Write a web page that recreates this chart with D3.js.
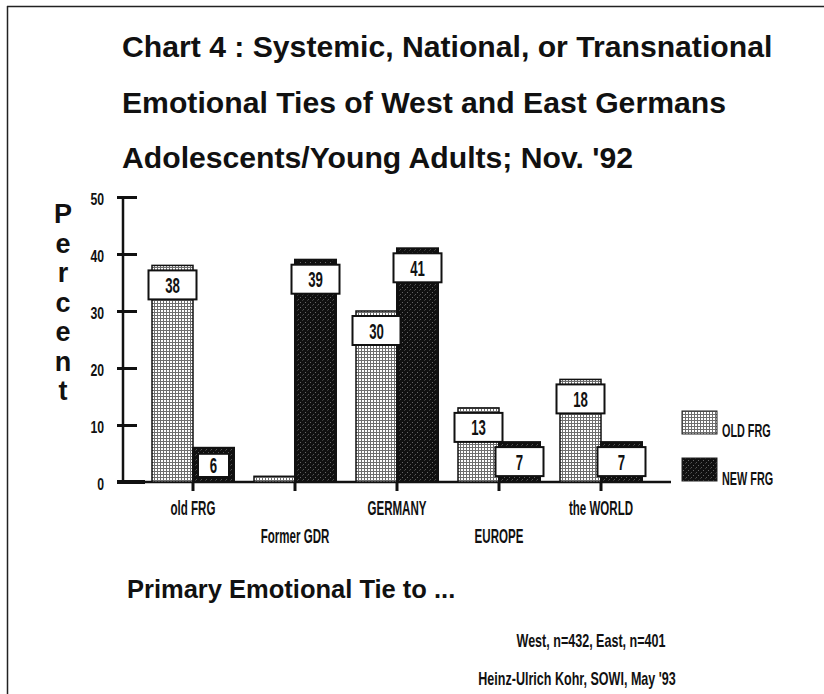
<!DOCTYPE html>
<html><head><meta charset="utf-8">
<script src="https://cdn.jsdelivr.net/npm/d3@7"></script>
<style>body{margin:0;background:#fff}</style>
</head><body><svg id="c" width="824" height="694"></svg>
<script>
const categories = ["old FRG","Former GDR","GERMANY","EUROPE","the WORLD"];
const seriesNames = ["OLD FRG","NEW FRG"];
const oldFRG = [38,1,30,13,18];
const newFRG = [6,39,41,7,7];
const yTicks = [0,10,20,30,40,50];
const titleLines = ["Chart 4 : Systemic, National, or Transnational","Emotional Ties of West and East Germans","Adolescents/Young Adults; Nov. '92"];
const yTitle = "Percent";
const xTitle = "Primary Emotional Tie to ...";
const notes = ["West, n=432, East, n=401","Heinz-Ulrich Kohr, SOWI, May '93"];

const svg = d3.select("#c");
const SANS = "'Liberation Sans', Arial, Helvetica, sans-serif";
function condense(sel, sx){
  sel.each(function(){
    const w = this.getComputedTextLength();
    d3.select(this).attr("textLength", w*sx).attr("lengthAdjust","spacingAndGlyphs");
  });
}

// patterns
const defs = svg.append("defs");
const pOld = defs.append("pattern").attr("id","pOld").attr("patternUnits","userSpaceOnUse").attr("width",3).attr("height",3);
pOld.append("rect").attr("width",3).attr("height",3).attr("fill","#6e6e6e");
pOld.append("rect").attr("x",1).attr("y",1).attr("width",2).attr("height",2).attr("fill","#fff");
const pNew = defs.append("pattern").attr("id","pNew").attr("patternUnits","userSpaceOnUse").attr("width",5).attr("height",5);
pNew.append("rect").attr("width",5).attr("height",5).attr("fill","#101010");
pNew.append("rect").attr("x",1).attr("y",2).attr("width",1).attr("height",1).attr("fill","#666");
pNew.append("rect").attr("x",3).attr("y",0).attr("width",1).attr("height",1).attr("fill","#3a3a3a");
pNew.append("rect").attr("x",4).attr("y",4).attr("width",1).attr("height",1).attr("fill","#555");

// frame
svg.append("line").attr("x1",7).attr("x2",824).attr("y1",6.5).attr("y2",6.5).attr("stroke","#222").attr("stroke-width",1.5);
svg.append("line").attr("x1",7.5).attr("x2",7.5).attr("y1",6).attr("y2",694).attr("stroke","#222").attr("stroke-width",1.5);

// titles
svg.selectAll("text.title").data(titleLines).join("text").attr("class","title")
  .attr("x",122).attr("y",(d,i)=>57+i*55.5)
  .attr("font-family",SANS).attr("font-weight","bold").attr("font-size",29).attr("fill","#111")
  .text(d=>d).call(condense,1.04);

// scales
const x = d3.scaleBand().domain(categories).range([142,652]).padding(0);
const inner = d3.scaleBand().domain(seriesNames).range([10,92]).padding(0);
const y = d3.scaleLinear().domain([0,50]).range([482,197]);
const y0 = y(0);

// y title: vertical stacked letters as one text
svg.append("text").attr("x",63).attr("y",199)
  .style("writing-mode","vertical-rl").style("text-orientation","upright")
  .attr("font-family",SANS).attr("font-weight","bold").attr("font-size",27).attr("fill","#111")
  .attr("letter-spacing",-0.5)
  .text(yTitle);

// y axis
const gy = svg.append("g").attr("transform","translate(123,0)")
  .call(d3.axisLeft(y).tickValues(yTicks).tickSize(6).tickPadding(13));
gy.select(".domain").attr("stroke","#111").attr("stroke-width",2.5).attr("d",`M0,${y(50)}V${y0}`);
gy.selectAll(".tick line").attr("x1",-6).attr("x2",14).attr("stroke","#111").attr("stroke-width",3);
gy.selectAll(".tick text").attr("font-family",SANS).attr("font-weight","bold").attr("font-size",17)
  .attr("fill","#111").attr("dy","0.45em").call(condense,0.72);

// baseline
svg.append("line").attr("x1",118).attr("x2",x.range()[1]+19).attr("y1",y0).attr("y2",y0).attr("stroke","#111").attr("stroke-width",2.5);
svg.append("line").attr("x1",117).attr("x2",145).attr("y1",y0).attr("y2",y0).attr("stroke","#111").attr("stroke-width",4);

// bars
const rows = categories.map((c,i)=>({cat:c, vals:[{s:seriesNames[0],v:oldFRG[i]},{s:seriesNames[1],v:newFRG[i]}]}));
const groups = svg.selectAll("g.grp").data(rows).join("g").attr("class","grp")
  .attr("transform",d=>`translate(${x(d.cat)},0)`);
const bw = inner.bandwidth();
groups.selectAll("rect.bar").data(d=>d.vals).join("rect").attr("class","bar")
  .attr("x",d=>inner(d.s)).attr("width",bw)
  .attr("y",d=>y(d.v)).attr("height",d=>y0-y(d.v))
  .attr("fill",d=>d.s===seriesNames[0]?"url(#pOld)":"url(#pNew)")
  .attr("stroke","#111").attr("stroke-width",d=>d.s===seriesNames[0]?1.5:2);

// label boxes
groups.each(function(d){
  const g = d3.select(this);
  d.vals.forEach(e=>{
    const top = y(e.v), h = y0-top;
    if (h < 15) return;
    let bx, by, bwid, bh;
    if (top+5+29 > y0-3){
      bx = inner(e.s)+5; bwid = bw-10; by = top+6; bh = y0-5-by;
    } else {
      bx = inner(e.s)-3.5; bwid = bw+7; by = top+5; bh = 29;
    }
    g.append("rect").attr("x",bx).attr("y",by).attr("width",bwid).attr("height",bh)
      .attr("fill","#fff").attr("stroke","#111").attr("stroke-width",2);
    g.append("text").attr("x",bx+bwid/2).attr("y",by+bh/2+8).attr("text-anchor","middle")
      .attr("font-family",SANS).attr("font-weight","bold").attr("font-size",22).attr("fill","#111")
      .text(e.v).call(condense,0.6);
  });
});

// x ticks
svg.selectAll("line.xt").data(categories).join("line").attr("class","xt")
  .attr("x1",d=>x(d)+x.bandwidth()/2).attr("x2",d=>x(d)+x.bandwidth()/2)
  .attr("y1",y0).attr("y2",y0+9).attr("stroke","#111").attr("stroke-width",3);

// x labels (staggered)
svg.selectAll("text.xl").data(categories).join("text").attr("class","xl")
  .attr("x",d=>x(d)+x.bandwidth()/2).attr("y",(d,i)=>i%2===0?515:543).attr("text-anchor","middle")
  .attr("font-family",SANS).attr("font-weight","bold").attr("font-size",21).attr("fill","#111")
  .text(d=>d).call(condense,0.55);

// legend
const leg = svg.selectAll("g.leg").data(seriesNames).join("g").attr("class","leg")
  .attr("transform",(d,i)=>`translate(682,${411+i*47})`);
leg.append("rect").attr("width",35).attr("height",23)
  .attr("fill",(d,i)=>i===0?"url(#pOld)":"url(#pNew)").attr("stroke","#222").attr("stroke-width",1);
leg.append("text").attr("x",40).attr("y",(d,i)=>26+i*1).attr("font-family",SANS).attr("font-weight","bold")
  .attr("font-size",19).attr("fill","#111").text(d=>d).call(condense,0.57);

// x title
svg.append("text").attr("x",127).attr("y",598).attr("font-family",SANS).attr("font-weight","bold")
  .attr("font-size",25.5).attr("fill","#111").text(xTitle);

// notes
svg.selectAll("text.note").data(notes).join("text").attr("class","note")
  .attr("x",(d,i)=>i===0?591:577).attr("y",(d,i)=>i===0?647:685).attr("text-anchor","middle")
  .attr("font-family",SANS).attr("font-weight","bold").attr("font-size",19).attr("fill","#111")
  .text(d=>d).call(condense,0.66);
</script></body></html>
